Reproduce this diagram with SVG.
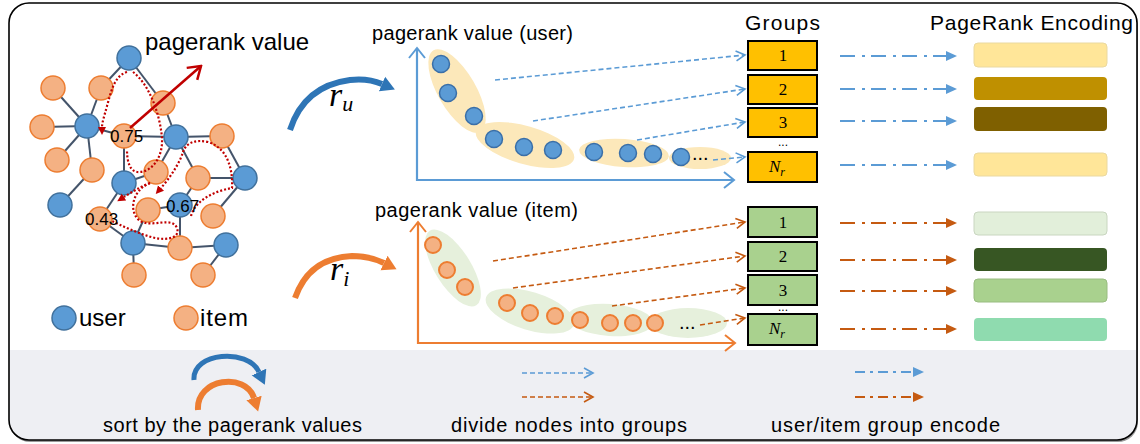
<svg xmlns="http://www.w3.org/2000/svg" width="1140" height="444" viewBox="0 0 1140 444">
<style>
.edge{stroke:#44546A;stroke-width:2}
.u{fill:#5B9BD5;stroke:#41719C;stroke-width:1.5}
.i{fill:#F4B183;stroke:#ED7D31;stroke-width:1.5}
.rd{fill:none;stroke:#C00000;stroke-width:2.2;stroke-dasharray:2 2}
.t{font-family:"Liberation Sans",Arial,sans-serif;fill:#000}
.m{font-family:"Liberation Serif","Times New Roman",serif;font-style:italic;fill:#000}
.num{font-family:"Liberation Serif","Times New Roman",serif;font-size:17px;text-anchor:middle;fill:#000}
.gy{fill:#FFC000;stroke:#000;stroke-width:2}
.gg{fill:#A9D18E;stroke:#000;stroke-width:2}
.du{fill:#5B9BD5;stroke:#3A6FA8;stroke-width:1.5}
.di{fill:#F4B183;stroke:#ED7D31;stroke-width:2}
.dashB{fill:none;stroke:#5B9BD5;stroke-width:1.6;stroke-dasharray:5 3;marker-end:url(#chevB)}
.dashO{fill:none;stroke:#C55A11;stroke-width:1.6;stroke-dasharray:5 3;marker-end:url(#chevO)}
.ddB{fill:none;stroke:#5B9BD5;stroke-width:2;stroke-dasharray:15 7 3 6;marker-end:url(#triB)}
.ddO{fill:none;stroke:#C55A11;stroke-width:2;stroke-dasharray:15 7 3 6;marker-end:url(#triO)}
.axB{fill:none;stroke:#5B9BD5;stroke-width:2.2;marker-start:url(#axB);marker-end:url(#axB)}
.axO{fill:none;stroke:#ED7D31;stroke-width:2.2;marker-start:url(#axO);marker-end:url(#axO)}
</style>
<defs>
<clipPath id="frameClip"><rect x="9" y="3" width="1128" height="437" rx="20"/></clipPath>
<marker id="chevB" markerUnits="userSpaceOnUse" viewBox="-10 -6 12 12" refX="0" refY="0" markerWidth="12" markerHeight="12" orient="auto"><path d="M-9,-5 L0,0 L-9,5" fill="none" stroke="#5B9BD5" stroke-width="1.6"/></marker>
<marker id="chevO" markerUnits="userSpaceOnUse" viewBox="-10 -6 12 12" refX="0" refY="0" markerWidth="12" markerHeight="12" orient="auto"><path d="M-9,-5 L0,0 L-9,5" fill="none" stroke="#C55A11" stroke-width="1.6"/></marker>
<marker id="triB" markerUnits="userSpaceOnUse" viewBox="0 -6 12 12" refX="0" refY="0" markerWidth="12" markerHeight="12" orient="auto"><path d="M0,-5 L11,0 L0,5 Z" fill="#5B9BD5"/></marker>
<marker id="triO" markerUnits="userSpaceOnUse" viewBox="0 -6 12 12" refX="0" refY="0" markerWidth="12" markerHeight="12" orient="auto"><path d="M0,-5 L11,0 L0,5 Z" fill="#C55A11"/></marker>
<marker id="axB" markerUnits="userSpaceOnUse" viewBox="-12 -10 14 20" refX="0" refY="0" markerWidth="14" markerHeight="20" orient="auto-start-reverse"><path d="M-10,-8 L0,0 L-10,8" fill="none" stroke="#5B9BD5" stroke-width="2"/></marker>
<marker id="axO" markerUnits="userSpaceOnUse" viewBox="-12 -10 14 20" refX="0" refY="0" markerWidth="14" markerHeight="20" orient="auto-start-reverse"><path d="M-10,-8 L0,0 L-10,8" fill="none" stroke="#ED7D31" stroke-width="2"/></marker>
<marker id="redChev" markerUnits="userSpaceOnUse" viewBox="-14 -10 16 20" refX="0" refY="0" markerWidth="16" markerHeight="20" orient="auto"><path d="M-12,-8 L0,0 L-12,8" fill="none" stroke="#C00000" stroke-width="2.5"/></marker>
<marker id="redTri" markerUnits="userSpaceOnUse" viewBox="0 -5 9 10" refX="0" refY="0" markerWidth="9" markerHeight="10" orient="auto"><path d="M0,-4 L8,0 L0,4 Z" fill="#C00000"/></marker>
<marker id="swB" markerUnits="userSpaceOnUse" viewBox="0 -9 16 18" refX="0" refY="0" markerWidth="16" markerHeight="18" orient="auto"><path d="M0,-8 L14,0 L0,8 Z" fill="#2E75B6"/></marker>
<marker id="swO" markerUnits="userSpaceOnUse" viewBox="0 -9 16 18" refX="0" refY="0" markerWidth="16" markerHeight="18" orient="auto"><path d="M0,-8 L14,0 L0,8 Z" fill="#ED7D31"/></marker>
</defs>

<!-- frame -->
<rect x="10" y="5" width="1128" height="437" rx="20" fill="#9a9a9a"/>
<rect x="9" y="3" width="1128" height="437" rx="20" fill="#FFFFFF"/>
<rect x="0" y="350" width="1140" height="94" fill="#EEEFF3" clip-path="url(#frameClip)"/>
<rect x="9" y="3" width="1128" height="437" rx="20" fill="none" stroke="#000" stroke-width="1.6"/>

<!-- graph -->
<g id="graph">
<g class="edge">
<line x1="129" y1="58" x2="101" y2="88"/>
<line x1="129" y1="58" x2="163" y2="103"/>
<line x1="163" y1="103" x2="176" y2="137"/>
<line x1="87" y1="126" x2="53" y2="88"/>
<line x1="87" y1="126" x2="101" y2="88"/>
<line x1="87" y1="126" x2="42" y2="127"/>
<line x1="87" y1="126" x2="57" y2="160"/>
<line x1="87" y1="126" x2="92" y2="170"/>
<line x1="87" y1="126" x2="124" y2="136"/>
<line x1="124" y1="136" x2="176" y2="137"/>
<line x1="124" y1="136" x2="124" y2="183"/>
<line x1="176" y1="137" x2="222" y2="136"/>
<line x1="176" y1="137" x2="156" y2="172"/>
<line x1="176" y1="137" x2="198" y2="178"/>
<line x1="222" y1="136" x2="245" y2="178"/>
<line x1="198" y1="178" x2="245" y2="178"/>
<line x1="124" y1="183" x2="156" y2="172"/>
<line x1="92" y1="170" x2="60" y2="205"/>
<line x1="124" y1="183" x2="100" y2="219"/>
<line x1="148" y1="210" x2="180" y2="205"/>
<line x1="148" y1="210" x2="133" y2="243"/>
<line x1="198" y1="178" x2="180" y2="205"/>
<line x1="180" y1="205" x2="180" y2="248"/>
<line x1="100" y1="219" x2="133" y2="243"/>
<line x1="133" y1="243" x2="180" y2="248"/>
<line x1="180" y1="248" x2="226" y2="245"/>
<line x1="245" y1="178" x2="213" y2="216"/>
<line x1="133" y1="243" x2="134" y2="275"/>
<line x1="226" y1="245" x2="203" y2="275"/>
</g>
<g id="n-u1"><circle class="u" cx="129" cy="58" r="12"/></g>
<g id="n-i1"><circle class="i" cx="53" cy="88" r="12"/></g>
<g id="n-i2"><circle class="i" cx="101" cy="88" r="12"/></g>
<g id="n-i3"><circle class="i" cx="163" cy="103" r="12"/></g>
<g id="n-i4"><circle class="i" cx="42" cy="127" r="12"/></g>
<g id="n-u2"><circle class="u" cx="87" cy="126" r="12"/></g>
<g id="n-i5"><circle class="i" cx="124" cy="136" r="12"/></g>
<g id="n-u3"><circle class="u" cx="176" cy="137" r="12"/></g>
<g id="n-i6"><circle class="i" cx="222" cy="136" r="12"/></g>
<g id="n-i7"><circle class="i" cx="57" cy="160" r="12"/></g>
<g id="n-i8"><circle class="i" cx="92" cy="170" r="12"/></g>
<g id="n-u4"><circle class="u" cx="124" cy="183" r="12"/></g>
<g id="n-i9"><circle class="i" cx="156" cy="172" r="12"/></g>
<g id="n-i10"><circle class="i" cx="198" cy="178" r="12"/></g>
<g id="n-u5"><circle class="u" cx="245" cy="178" r="12"/></g>
<g id="n-u6"><circle class="u" cx="60" cy="205" r="12"/></g>
<g id="n-i11"><circle class="i" cx="100" cy="219" r="12"/></g>
<g id="n-i12"><circle class="i" cx="148" cy="210" r="12"/></g>
<g id="n-u7"><circle class="u" cx="180" cy="205" r="12"/></g>
<g id="n-i13"><circle class="i" cx="213" cy="216" r="12"/></g>
<g id="n-u8"><circle class="u" cx="133" cy="243" r="12"/></g>
<g id="n-i14"><circle class="i" cx="180" cy="248" r="12"/></g>
<g id="n-u9"><circle class="u" cx="226" cy="245" r="12"/></g>
<g id="n-i15"><circle class="i" cx="134" cy="275" r="12"/></g>
<g id="n-i16"><circle class="i" cx="203" cy="275" r="12"/></g>
<g id="walks">
<path class="rd" d="M127,72 C114,76 111,92 107,106 C104,117 102,123 102,127" marker-end="url(#redTri)"/>
<path class="rd" d="M133,72 C150,85 160,115 162,138 C163,158 152,171 140,172 C130,173 127,162 127,150"/>
<path class="rd" d="M191,216 C195,200 215,191 232,188 C233,170 228,148 208,142 C195,139 186,143 183,152 C179,165 168,180 161,188" marker-end="url(#redTri)"/>
<path class="rd" d="M150,183 C132,190 128,212 140,221 C152,228 172,216 177,228 C181,240 162,241 148,236 C135,232 122,226 112,221"/>
<path class="rd" d="M150,183 C140,187 132,192 124,197" marker-end="url(#redTri)"/>
</g>
<line x1="130" y1="128" x2="201" y2="66" stroke="#C00000" stroke-width="2.5" marker-end="url(#redChev)"/>
<text class="t" x="110" y="142" font-size="17">0.75</text>
<text class="t" x="85" y="225" font-size="17">0.43</text>
<text class="t" x="166" y="212" font-size="17">0.67</text>
<text class="t" x="145" y="50" font-size="24">pagerank value</text>
</g>

<g id="legend-nodes">
<circle class="u" cx="64" cy="318" r="12"/>
<text class="t" x="79" y="326" font-size="24">user</text>
<circle class="i" cx="186" cy="318" r="12"/>
<text class="t" x="200" y="326" font-size="24" textLength="48">item</text>
</g>

<!-- sort arrows -->
<g id="sort-user">
<path d="M290,130 Q304,86 350,80 Q368,78 382,84" fill="none" stroke="#2E75B6" stroke-width="6" marker-end="url(#swB)"/>
<text class="m" x="329" y="106" font-size="34">r<tspan font-size="22" dy="5">u</tspan></text>
</g>
<g id="sort-item">
<path d="M295,298 Q309,258 352,256 Q370,256 384,263" fill="none" stroke="#ED7D31" stroke-width="6" marker-end="url(#swO)"/>
<text class="m" x="330" y="280" font-size="34">r<tspan font-size="22" dy="6">i</tspan></text>
</g>

<!-- user chart -->
<g id="chart-user">
<text class="t" x="372" y="40" font-size="20" textLength="201">pagerank value (user)</text>
<ellipse cx="457" cy="91" rx="47" ry="19" transform="rotate(60 457 91)" fill="#FCE8BA"/>
<ellipse cx="525" cy="145" rx="51" ry="19" transform="rotate(16 525 145)" fill="#FCE8BA"/>
<ellipse cx="624" cy="153" rx="45" ry="14" transform="rotate(4 624 153)" fill="#FCE8BA"/>
<ellipse cx="700" cy="158" rx="31" ry="11" fill="#FCE8BA"/>
<path class="axB" d="M417,48 L417,180 L734,180"/>
<circle class="du" cx="441" cy="64" r="8.5"/>
<circle class="du" cx="448" cy="93" r="8.5"/>
<circle class="du" cx="474" cy="116" r="8.5"/>
<circle class="du" cx="494" cy="139" r="8.5"/>
<circle class="du" cx="524" cy="147" r="8.5"/>
<circle class="du" cx="553" cy="150" r="8.5"/>
<circle class="du" cx="594" cy="152" r="8.5"/>
<circle class="du" cx="628" cy="153" r="8.5"/>
<circle class="du" cx="653" cy="154" r="8.5"/>
<circle class="du" cx="681" cy="157" r="8.5"/>
<text class="t" x="692" y="160" font-size="20">...</text>
</g>

<!-- item chart -->
<g id="chart-item">
<text class="t" x="375" y="217" font-size="20" textLength="203">pagerank value (item)</text>
<ellipse cx="453" cy="268" rx="44" ry="18" transform="rotate(58 453 268)" fill="#E6F0DC"/>
<ellipse cx="530" cy="311" rx="46" ry="19" transform="rotate(17 530 311)" fill="#E6F0DC"/>
<ellipse cx="610" cy="320" rx="43" ry="16" transform="rotate(4 610 320)" fill="#E6F0DC"/>
<ellipse cx="688" cy="323" rx="39" ry="15" fill="#E6F0DC"/>
<path class="axO" d="M418,222 L418,343 L735,343"/>
<circle class="di" cx="433" cy="245" r="8"/>
<circle class="di" cx="447" cy="270" r="8"/>
<circle class="di" cx="465" cy="287" r="8"/>
<circle class="di" cx="507" cy="303" r="8"/>
<circle class="di" cx="530" cy="313" r="8"/>
<circle class="di" cx="555" cy="316" r="8"/>
<circle class="di" cx="580" cy="320" r="8"/>
<circle class="di" cx="610" cy="323" r="8"/>
<circle class="di" cx="633" cy="323" r="8"/>
<circle class="di" cx="655" cy="323" r="8"/>
<text class="t" x="679" y="329" font-size="20">...</text>
</g>

<!-- groups -->
<text class="t" x="745" y="30" font-size="21" textLength="75">Groups</text>
<text class="t" x="930" y="30" font-size="21" textLength="203">PageRank Encoding</text>
<g id="gu1"><rect class="gy" x="748" y="41" width="69" height="29"/><text class="num" x="783" y="61">1</text></g>
<g id="gu2"><rect class="gy" x="748" y="75" width="69" height="29"/><text class="num" x="783" y="95">2</text></g>
<g id="gu3"><rect class="gy" x="748" y="108" width="69" height="29"/><text class="num" x="783" y="128">3</text></g>
<text class="t" x="783" y="146" font-size="12" text-anchor="middle">...</text>
<g id="gun"><rect class="gy" x="748" y="152" width="69" height="30"/><text class="num" x="777" y="172" font-style="italic">N<tspan font-size="12" dy="4">r</tspan></text></g>
<g id="gi1"><rect class="gg" x="748" y="207" width="69" height="30"/><text class="num" x="783" y="228">1</text></g>
<g id="gi2"><rect class="gg" x="748" y="242" width="69" height="29"/><text class="num" x="783" y="262">2</text></g>
<g id="gi3"><rect class="gg" x="748" y="275" width="69" height="30"/><text class="num" x="783" y="296">3</text></g>
<text class="t" x="783" y="311" font-size="12" text-anchor="middle">...</text>
<g id="gin"><rect class="gg" x="748" y="314" width="69" height="31"/><text class="num" x="777" y="334" font-style="italic">N<tspan font-size="12" dy="4">r</tspan></text></g>

<!-- encodings -->
<g id="enc-user">
<rect x="974" y="43" width="133" height="24" rx="4" fill="#FFE699" stroke="#EAD9A0"/>
<rect x="974" y="77" width="133" height="23" rx="4" fill="#BF9000"/>
<rect x="974" y="107" width="133" height="24" rx="4" fill="#7F6000"/>
<rect x="974" y="153" width="133" height="23" rx="4" fill="#FFE699" stroke="#EAD9A0"/>
</g>
<g id="enc-item">
<rect x="974" y="212" width="133" height="23" rx="4" fill="#E2EFDA" stroke="#C9D6C0"/>
<rect x="974" y="248" width="133" height="23" rx="4" fill="#375623"/>
<rect x="974" y="279" width="133" height="23" rx="4" fill="#A9D18E" stroke="#98BC80"/>
<rect x="974" y="318" width="133" height="23" rx="4" fill="#8FDBAF"/>
</g>

<!-- connectors -->
<g id="connectors">
<path class="dashB" d="M495,80 L745,55"/>
<path class="dashB" d="M533,121 L745,89"/>
<path class="dashB" d="M637,140 L745,122"/>
<path class="dashB" d="M713,160 L745,157"/>
<path class="dashO" d="M493,261 L745,222"/>
<path class="dashO" d="M513,288 L745,256"/>
<path class="dashO" d="M612,306 L745,288"/>
<path class="dashO" d="M700,325 L745,318"/>
<path class="ddB" d="M840,56 L946,56"/>
<path class="ddB" d="M840,89 L946,89"/>
<path class="ddB" d="M840,121 L946,121"/>
<path class="ddB" d="M840,165 L946,165"/>
<path class="ddO" d="M840,223 L946,223"/>
<path class="ddO" d="M840,260 L946,260"/>
<path class="ddO" d="M840,291 L946,291"/>
<path class="ddO" d="M840,329 L946,329"/>
</g>

<!-- bottom legend -->
<g id="legend">
<path d="M194,380 C192,352 248,348 259,372" fill="none" stroke="#2E75B6" stroke-width="5" marker-end="url(#swB)"/>
<path d="M198,410 C196,378 246,372 254,398" fill="none" stroke="#ED7D31" stroke-width="6" marker-end="url(#swO)"/>
<text class="t" x="103" y="432" font-size="20" textLength="259">sort by the pagerank values</text>
<path class="dashB" d="M522,373 L593,373"/>
<path class="dashO" d="M522,397 L593,397"/>
<text class="t" x="451" y="432" font-size="20" textLength="236">divide nodes into groups</text>
<path d="M855,372 L913,372" fill="none" stroke="#5B9BD5" stroke-width="2" stroke-dasharray="10 5 3 5" marker-end="url(#triB)"/>
<path d="M855,397 L913,397" fill="none" stroke="#C55A11" stroke-width="2" stroke-dasharray="10 5 3 5" marker-end="url(#triO)"/>
<text class="t" x="771" y="432" font-size="20" textLength="229">user/item group encode</text>
</g>
</svg>
